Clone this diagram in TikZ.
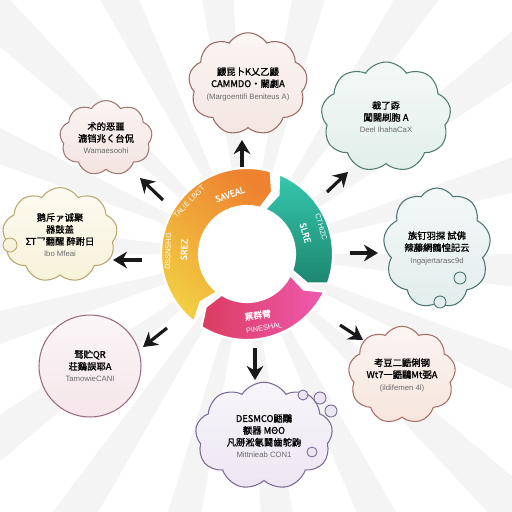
\documentclass[tikz,border=0pt]{standalone}
\usepackage{fontspec}
\setmainfont{Liberation Sans}
\newfontfamily\cjk{Noto Sans CJK SC}[BoldFont={Noto Sans CJK SC},BoldFeatures={FakeBold=1.3}]
\usetikzlibrary{shapes.symbols,arrows.meta}

\definecolor{raygray}{HTML}{F4F4F4}
\definecolor{subgray}{HTML}{6A6A6A}
\definecolor{ylw}{HTML}{F2CF42}
\definecolor{org}{HTML}{EE8230}
\definecolor{tealA}{HTML}{34C8AE}
\definecolor{tealB}{HTML}{1E8670}
\definecolor{pnkA}{HTML}{DC3C60}
\definecolor{pnkB}{HTML}{EE5AB0}
\definecolor{peachF}{HTML}{F4E6E2}\definecolor{peachD}{HTML}{9C6A62}
\definecolor{mintF}{HTML}{E2EFEA}\definecolor{mintD}{HTML}{4E7C74}
\definecolor{roseF}{HTML}{F3E4E0}\definecolor{roseD}{HTML}{A07870}
\definecolor{creamF}{HTML}{F8F2DA}\definecolor{creamD}{HTML}{B8A870}
\definecolor{aquaF}{HTML}{E2EEEC}\definecolor{aquaD}{HTML}{4A7474}
\definecolor{blushF}{HTML}{F5E6EA}\definecolor{blushD}{HTML}{9A6A84}
\definecolor{salmF}{HTML}{F6E5DD}\definecolor{salmD}{HTML}{A86E66}
\definecolor{lilacF}{HTML}{ECE6F2}\definecolor{lilacD}{HTML}{7A6A96}

\newcommand{\hd}[1]{{\cjk\bfseries\fontsize{5.3}{6.6}\selectfont #1}}
\newcommand{\nt}[1]{{\fontsize{4.4}{5.4}\selectfont\color{subgray}#1}}
\newcommand{\ringseg}[3]{%
  \shade[#3,draw=white,line width=1.2pt]
    (#1:86) arc[start angle=#1,end angle=#2,radius=86]
    -- ({#2-6}:67) -- (#2:48) arc[start angle=#2,end angle=#1,radius=48]
    -- ({#1-6}:67) -- cycle;}

\tikzset{
  thought/.style 2 args={cloud,cloud puffs=9,cloud puff arc=115,cloud ignores aspect,draw=#2,
    top color=#1!40!white,bottom color=#1,line width=0.6pt,align=center,inner sep=0pt,
    font=\fontsize{5.3}{6.8}\selectfont},
  bub/.style 2 args={draw=#2,fill=#1,line width=0.5pt},
  outarrow/.style={line width=1.8pt,draw=black!90,-{Stealth[length=8pt,width=9.5pt]}},
  ringtxt/.style={text=white,font=\fontsize{4.2}{5}\selectfont,inner sep=0.5pt},
  ringbold/.style={text=white,font=\cjk\bfseries\fontsize{5}{6}\selectfont,inner sep=0.5pt}
}

\begin{document}
\begin{tikzpicture}[x=0.02cm,y=-0.02cm]
\useasboundingbox (0,0) rectangle (512,512);
\fill[white] (0,0) rectangle (512,512);
\begin{scope}
\clip (0,0) rectangle (512,512);
\begin{scope}[shift={(247,254)}]
\foreach \a in {0,20,...,340}
  \fill[raygray] (0,0) -- (\a:420) -- (\a+7:420) -- cycle;
\end{scope}
\end{scope}

\coordinate (c) at (247,254);

\coordinate (t1) at (242,167); \coordinate (h1) at (242,140);
\coordinate (t2) at (163,200); \coordinate (h2) at (140,178);
\coordinate (t3) at (327,192); \coordinate (h3) at (348,172);
\coordinate (t4) at (142,260); \coordinate (h4) at (113,260);
\coordinate (t5) at (350,253); \coordinate (h5) at (378,253);
\coordinate (t6) at (167,328); \coordinate (h6) at (143,347);
\coordinate (t7) at (340,325); \coordinate (h7) at (363,340);
\coordinate (t8) at (255,348); \coordinate (h8) at (255,380);
\foreach \i in {1,...,8}
  \draw[outarrow] (t\i) -- (h\i);

\begin{scope}[shift={(c)},x=0.02cm,y=0.02cm]
\fill[white] (0,0) circle[radius=48];
\ringseg{232}{74}{top color=org,bottom color=ylw,shading angle=-40}
\ringseg{68}{-20}{top color=tealA,bottom color=tealB}
\ringseg{-26}{-122}{left color=pnkA,right color=pnkB}
\node[ringtxt,rotate=46] (oThin) at (138:78) {TALIE LBGT};
\node[ringbold,rotate=20] (oBold) at (106:62) {SAVEAL};
\node[ringtxt,rotate=88] (yThin) at (178:79) {DSSNSHG};
\node[ringbold,rotate=88] (yBold) at (176:63) {SREZ};
\node[ringtxt,rotate=-74] (gThin) at (20:79) {CTHIZC};
\node[ringbold,rotate=-74] (gBold) at (20:62) {SLRE};
\node[ringbold,rotate=8] (pBold) at (-80:62) {票群臂};
\node[ringtxt,rotate=10] (pThin) at (-77:76) {PINESHAL};
\end{scope}

\node[thought={peachF}{peachD},minimum width=1.65cm,minimum height=2.05cm] (cTop) at (248,84)
  {\hd{鼹昆卜K乂乙鼹}\\\hd{CAMMDO·關劇A}\\\nt{(Margoentifi Beniteus A)}};
\node[thought={mintF}{mintD},minimum width=2.6cm,minimum height=2.2cm] (cTopR) at (386,117)
  {\hd{裁了孬}\\\hd{闖闊刷胞 A}\\\nt{Deel IhahaCaX}};
\node[thought={roseF}{roseD},minimum width=1.85cm,minimum height=1.5cm] (cTopL) at (106,138)
  {\hd{术的恶噩}\\\hd{漉铛兆く台侃}\\\nt{Wamaesoohi}};
\node[thought={creamF}{creamD},minimum width=2.3cm,minimum height=1.9cm] (cLeft) at (60,235)
  {\hd{鹅斥ァ诚聚}\\\hd{器鼓盖}\\\hd{ΣΤ乛翻醒 醉跗日}\\\nt{Ibo Mfeai}};
\node[thought={aquaF}{aquaD},minimum width=2.15cm,minimum height=2.4cm] (cRight) at (437,248)
  {\hd{族钉羽探 試佛}\\\hd{辣藤網鶴惶記云}\\\nt{Ingajertarasc9d}};
\node[circle,draw=blushD,top color=blushF!40!white,bottom color=blushF,line width=0.6pt,
  minimum size=2.04cm,align=center,inner sep=1pt,font=\fontsize{5.3}{6.8}\selectfont] (cBotL) at (90,366)
  {\hd{驽贮QR}\\\hd{荘鷄誤耶A}\\\nt{TamowieCANI}};
\node[thought={salmF}{salmD},minimum width=2.15cm,minimum height=1.95cm] (cBotR) at (402,375)
  {\hd{考豆二鼯俐钢}\\\hd{Wt7一鼯鷗Mt弼A}\\\nt{(ildifemen 4l)}};
\node[thought={lilacF}{lilacD},minimum width=2.75cm,minimum height=2.15cm] (cBot) at (264,436)
  {\hd{DESMCO鼯鷴}\\\hd{额器 ΜΘΟ}\\\hd{凡掰淞氡鬪齒鸵鼩}\\\nt{Mittnieab CON1}};

\draw[bub={creamF}{creamD}] (10,245) circle[radius=7];
\draw[bub={aquaF}{aquaD}] (460,278) circle[radius=6];
\draw[bub={aquaF}{aquaD}] (440,302) circle[radius=6];
\draw[bub={lilacF}{lilacD}] (303,395) circle[radius=5];
\draw[bub={lilacF}{lilacD}] (320,398) circle[radius=6];
\draw[bub={lilacF}{lilacD}] (331,411) circle[radius=6];
\draw[bub={lilacF}{lilacD}] (312,452) circle[radius=5];
\end{tikzpicture}
\end{document}
